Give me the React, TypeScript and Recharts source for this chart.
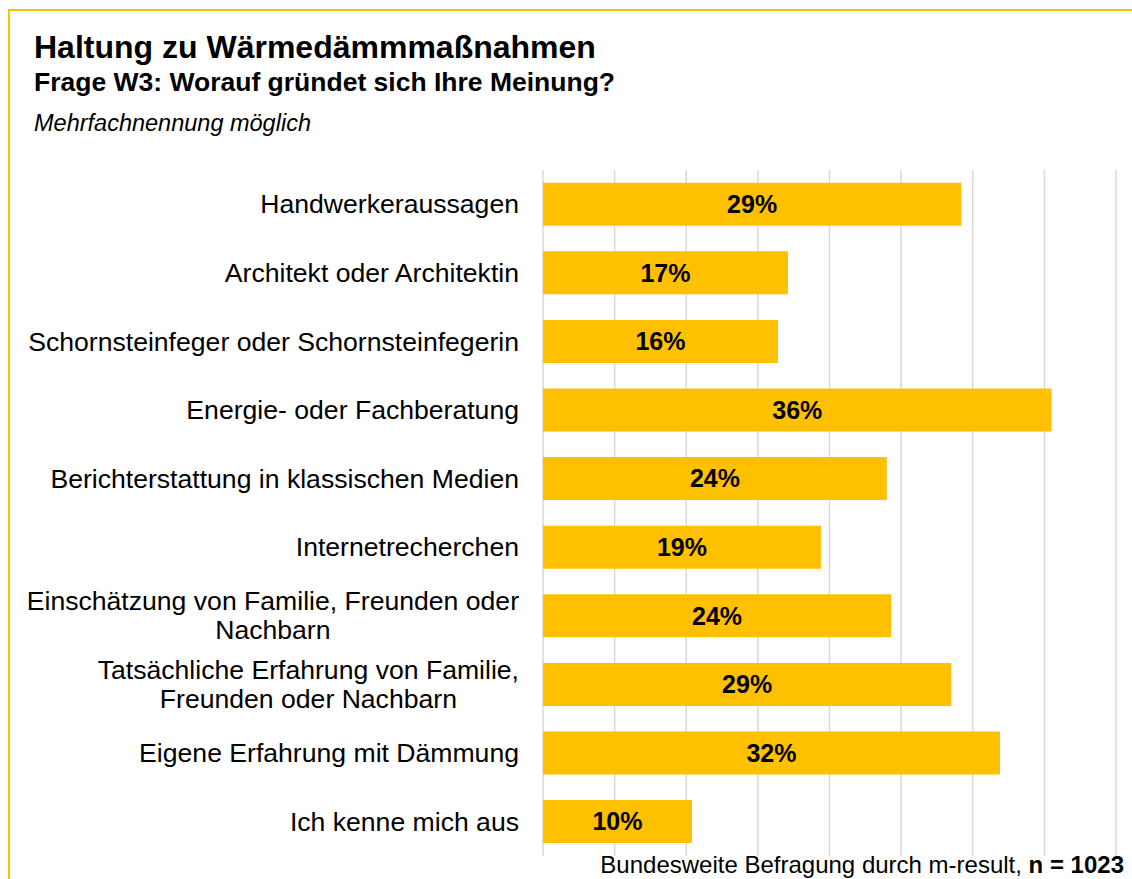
import { BarChart, Bar, XAxis, YAxis, CartesianGrid, LabelList } from 'recharts'

const categories = [
  'Handwerkeraussagen',
  'Architekt oder Architektin',
  'Schornsteinfeger oder Schornsteinfegerin',
  'Energie- oder Fachberatung',
  'Berichterstattung in klassischen Medien',
  'Internetrecherchen',
  'Einschätzung von Familie, Freunden oder\nNachbarn',
  'Tatsächliche Erfahrung von Familie,\nFreunden oder Nachbarn',
  'Eigene Erfahrung mit Dämmung',
  'Ich kenne mich aus',
]
const values = [29.2, 17.1, 16.4, 35.5, 24.0, 19.4, 24.3, 28.5, 31.9, 10.4]
const xTicks = [0, 5, 10, 15, 20, 25, 30, 35, 40]

const data = categories.map((name, i) => ({ name, value: values[i] }))

const FONT = '"Liberation Sans", Arial, sans-serif'
const YELLOW = '#FFC000'
const LABEL_SIZE = 26.6

let ctx: CanvasRenderingContext2D | null = null
function textWidth(s: string, size: number) {
  if (!ctx) ctx = document.createElement('canvas').getContext('2d')
  if (!ctx) return s.length * size * 0.5
  ctx.font = `${size}px "Liberation Sans", Arial, sans-serif`
  return ctx.measureText(s).width
}

function CategoryTick(props: any) {
  const { x, y, payload } = props
  const lines = String(payload.value).split('\n')
  const lh = 29
  const y0 = y - ((lines.length - 1) * lh) / 2
  if (lines.length === 1) {
    return (
      <text x={x} y={y} textAnchor="end" dominantBaseline="central" fontFamily={FONT} fontSize={LABEL_SIZE} fill="#000">
        {lines[0]}
      </text>
    )
  }
  const widest = Math.max(...lines.map(l => textWidth(l, LABEL_SIZE)))
  const cx = x - widest / 2
  return (
    <text textAnchor="middle" dominantBaseline="central" fontFamily={FONT} fontSize={LABEL_SIZE} fill="#000">
      {lines.map((l, i) => (
        <tspan key={i} x={cx} y={y0 + i * lh}>
          {l}
        </tspan>
      ))}
    </text>
  )
}

export default function App() {
  return (
    <div style={{ position: 'absolute', left: 0, top: 0, width: 1132, height: 879, background: '#fff', fontFamily: FONT }}>
      <div
        style={{
          position: 'absolute',
          left: 8,
          top: 9,
          right: 0,
          bottom: 0,
          borderTop: `2px solid ${YELLOW}`,
          borderLeft: `2px solid ${YELLOW}`,
        }}
      />
      <svg width={1132} height={879} style={{ position: 'absolute', left: 0, top: 0 }}>
        <text x={34} y={58} fontFamily={FONT} fontSize={32} fontWeight="bold" fill="#000">
          Haltung zu Wärmedämmmaßnahmen
        </text>
        <text x={34} y={91} fontFamily={FONT} fontSize={26.5} fontWeight="bold" fill="#000">
          Frage W3: Worauf gründet sich Ihre Meinung?
        </text>
        <text x={34} y={131} fontFamily={FONT} fontSize={23.5} fontStyle="italic" fill="#000">
          Mehrfachnennung möglich
        </text>
        <text x={1124} y={873} textAnchor="end" fontFamily={FONT} fontSize={24} fill="#000">
          Bundesweite Befragung durch m-result, <tspan fontWeight="bold">n = 1023</tspan>
        </text>
      </svg>
      <div style={{ position: 'absolute', left: 0, top: 0 }}>
        <BarChart
          width={1132}
          height={879}
          data={data}
          layout="vertical"
          margin={{ top: 170, right: 16, bottom: 23, left: 0 }}
          barCategoryGap="18.5%"
        >
          <CartesianGrid horizontal={false} stroke="#d9d9d9" strokeWidth={1.5} />
          <XAxis type="number" domain={[0, 40]} ticks={xTicks} hide />
          <YAxis
            type="category"
            dataKey="name"
            width={543}
            axisLine={false}
            tickLine={false}
            tickSize={0}
            tickMargin={24}
            interval={0}
            tick={<CategoryTick />}
          />
          <Bar dataKey="value" fill={YELLOW} isAnimationActive={false}>
            <LabelList
              dataKey="value"
              position="center"
              formatter={(v: any) => `${Math.round(Number(v))}%`}
              fill="#000"
              fontFamily={FONT}
              fontSize={25}
              fontWeight="bold"
            />
          </Bar>
        </BarChart>
      </div>
    </div>
  )
}
